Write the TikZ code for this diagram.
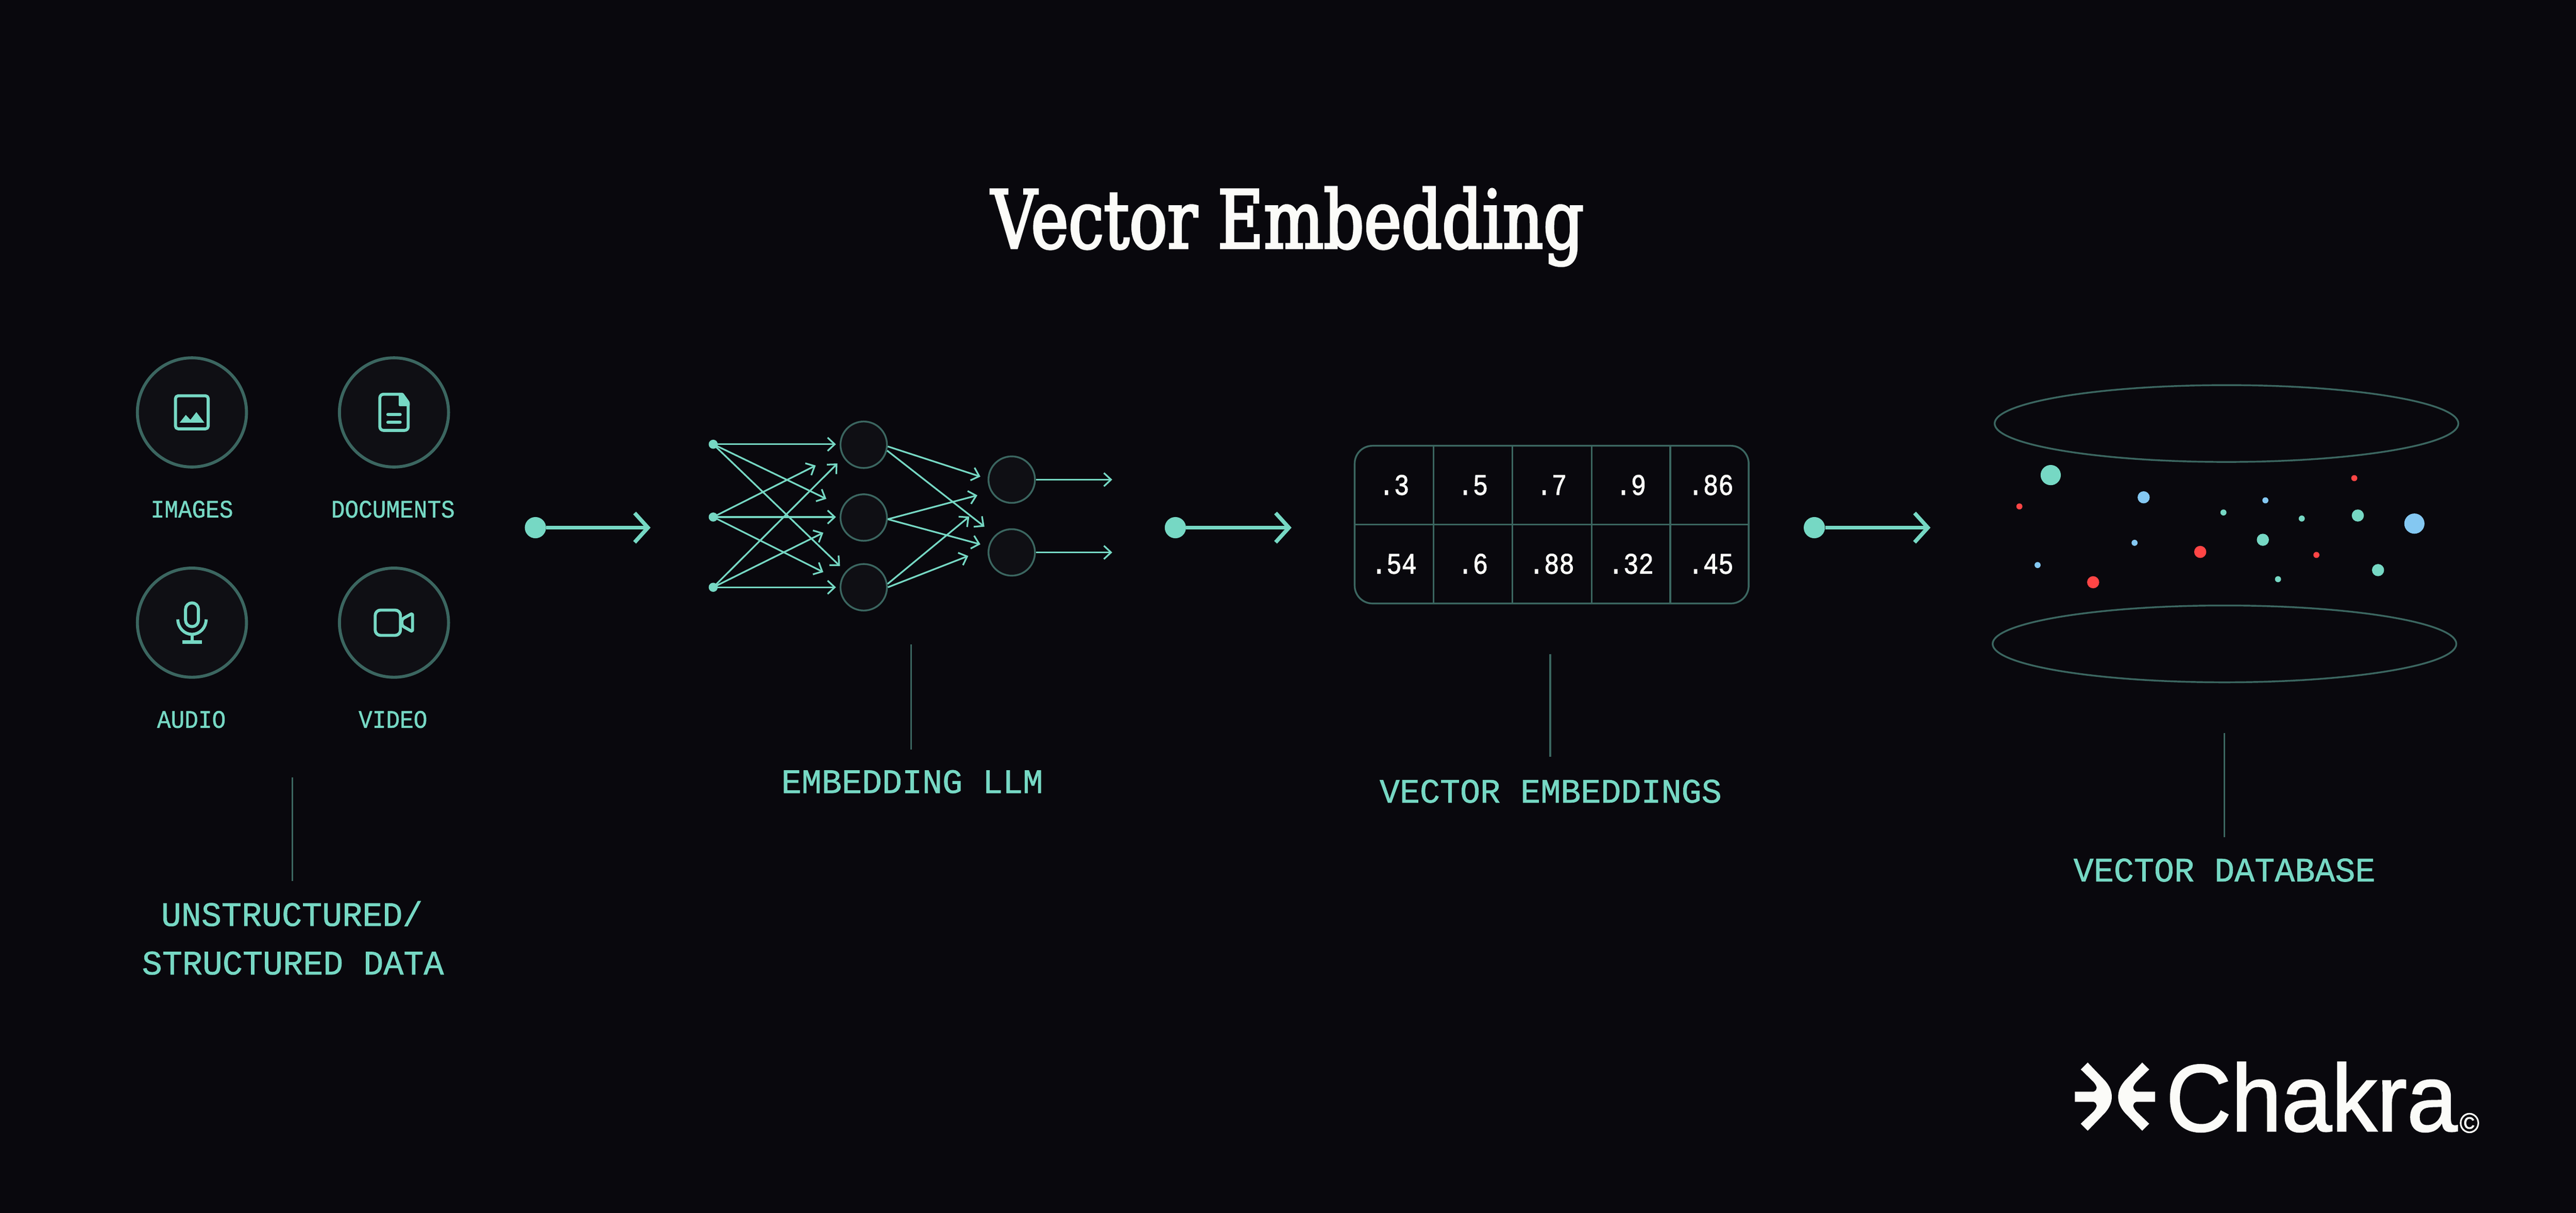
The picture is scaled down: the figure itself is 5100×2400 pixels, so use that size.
\documentclass[tikz,border=0pt]{standalone}
\usepackage{fontspec}
\usetikzlibrary{arrows.meta,shapes.geometric}
\newfontfamily\titlefont[FakeStretch=0.785,FakeBold=2.6]{DejaVu Serif}
\newfontfamily\labelfont[FakeStretch=0.98,FakeBold=1.1]{Liberation Mono}
\newfontfamily\smalllabelfont[FakeStretch=0.91,FakeBold=1.0]{Liberation Mono}
\newfontfamily\cellfont[FakeStretch=0.85,FakeBold=1.6]{Liberation Mono}
\newfontfamily\logofont[FakeStretch=0.95,FakeBold=1.4]{Liberation Sans}
\definecolor{bgc}{HTML}{09080D}
\definecolor{fillc}{HTML}{0F0F14}
\definecolor{teal}{HTML}{76D8C4}
\definecolor{dimc}{HTML}{3B6660}
\definecolor{bluec}{HTML}{84C8F2}
\definecolor{redc}{HTML}{FF4545}
\definecolor{whitec}{HTML}{FBFBF8}
% 1 px = 0.2 mm = 0.56693 pt
\newcommand{\pxfont}[1]{\fontsize{\dimexpr #1\dimexpr 0.56693pt\relax\relax}{\dimexpr #1\dimexpr 0.6pt\relax\relax}\selectfont}
\tikzset{
  iconring/.style={circle,draw=dimc,fill=fillc,line width=3.4pt,minimum size=216*0.2mm,inner sep=0pt},
  neuron/.style={circle,draw=dimc,fill=fillc,line width=2pt,minimum size=92*0.2mm,inner sep=0pt},
  inputdot/.style={circle,fill=teal,minimum size=18*0.2mm,inner sep=0pt},
  flowdot/.style={circle,fill=teal,minimum size=42*0.2mm,inner sep=0pt},
  flowarrow/.style={teal,line width=4.4pt,-{Straight Barb[length=15pt,width=33pt,line width=4.4pt]}},
  netarrow/.style={teal,line width=1.9pt,-{Straight Barb[length=8pt,width=15pt,line width=1.9pt]}},
  leader/.style={dimc,line width=2pt},
  icon/.style={teal,line width=3.4pt,line join=round},
  biglabel/.style={text=teal,font=\labelfont\pxfont{68},inner sep=0pt,anchor=base},
  smalllabel/.style={text=teal,font=\smalllabelfont\pxfont{50},inner sep=0pt,anchor=base},
  cellnum/.style={text=whitec,font=\cellfont\pxfont{59},inner sep=0pt,anchor=base},
  tablerule/.style={dimc,line width=2pt},
  disc/.style={ellipse,draw=dimc,line width=2pt,minimum width=918*0.2mm,minimum height=152*0.2mm,inner sep=0pt},
  spot/.style={circle,inner sep=0pt,fill=#1},
  spotS/.style={spot=#1,minimum size=12*0.2mm},
  spotM/.style={spot=#1,minimum size=24*0.2mm},
  spotL/.style={spot=#1,minimum size=40*0.2mm},
}
\begin{document}
\begin{tikzpicture}[x=0.2mm,y=-0.2mm]
\useasboundingbox (0,0) rectangle (5100,2400);
\fill[bgc] (0,0) rectangle (5100,2400);

% title
\node[text=whitec,font=\titlefont\pxfont{160},inner sep=0pt,anchor=base] (title) at (2549,491) {Vector Embedding};

% input icons
\node[iconring] (r1) at (380,816) {};
\node[iconring] (r2) at (780,816) {};
\node[iconring] (r3) at (380,1232) {};
\node[iconring] (r4) at (780,1232) {};
\begin{scope}[shift={(200,650)},scale=0.5102]
  % image
  \draw[icon,rounded corners=3pt] (289,261) rectangle (416,389);
  \fill[teal] (305,365) -- (329,335) -- (347,354) -- (370,324) -- (401,365) -- cycle;
  % document
  \draw[icon,rounded corners=4pt] (1160,255) -- (1082,255) -- (1082,395) -- (1192,395) -- (1192,295);
  \fill[teal,rounded corners=1pt] (1155,249) -- (1172,249) -- (1198,285) -- (1198,301) -- (1155,301) -- cycle;
  \draw[icon,line cap=round] (1113,333) -- (1161,333);
  \draw[icon,line cap=round] (1113,364) -- (1161,364);
  % microphone
  \draw[icon,rounded corners=7.2pt] (328,1064) rectangle (378,1156);
  \draw[icon] (298,1128) .. controls (298,1160) and (323,1186) .. (353,1186) .. controls (383,1186) and (408,1160) .. (408,1128);
  \draw[icon] (353,1186) -- (353,1216);
  \draw[icon,line width=4pt] (315,1216) -- (392,1216);
  % video
  \draw[icon,rounded corners=6pt] (1064,1092) rectangle (1162,1190);
  \draw[icon,rounded corners=2pt] (1168,1127) -- (1209,1104) -- (1209,1176) -- (1168,1153) -- cycle;
\end{scope}
\node[smalllabel] (limg) at (380,1024) {IMAGES};
\node[smalllabel] (ldoc) at (778,1024) {DOCUMENTS};
\node[smalllabel] (laud) at (379,1440) {AUDIO};
\node[smalllabel] (lvid) at (778,1440) {VIDEO};

% leader + group labels
\coordinate (a1) at (579,1538); \coordinate (a2) at (579,1743);
\draw[leader] (a1) -- (a2);
\node[biglabel] (lun) at (578,1832) {UNSTRUCTURED/};
\node[biglabel] (lst) at (580,1928) {STRUCTURED DATA};

\coordinate (b1) at (1804,1275); \coordinate (b2) at (1804,1483);
\draw[leader] (b1) -- (b2);
\node[biglabel] (lllm) at (1806,1569) {EMBEDDING LLM};

\coordinate (c1) at (3069,1294); \coordinate (c2) at (3069,1497);
\draw[leader] (c1) -- (c2);
\node[biglabel] (lvec) at (3070,1588) {VECTOR EMBEDDINGS};

\coordinate (d1) at (4404,1450); \coordinate (d2) at (4404,1656);
\draw[leader] (d1) -- (d2);
\node[biglabel] (ldb) at (4404,1744) {VECTOR DATABASE};

% flow arrows
\node[flowdot] (f1) at (1060,1044) {}; \coordinate (g1) at (1288,1044);
\node[flowdot] (f2) at (2327,1044) {}; \coordinate (g2) at (2557,1044);
\node[flowdot] (f3) at (3592,1044) {}; \coordinate (g3) at (3822,1044);
\draw[flowarrow] (f1) -- (g1);
\draw[flowarrow] (f2) -- (g2);
\draw[flowarrow] (f3) -- (g3);

% neural net
\node[inputdot] (i1) at (1412,879) {};
\node[inputdot] (i2) at (1412,1023) {};
\node[inputdot] (i3) at (1412,1162) {};
\node[neuron] (h1) at (1710,880) {};
\node[neuron] (h2) at (1710,1024) {};
\node[neuron] (h3) at (1710,1162) {};
\node[neuron] (o1) at (2003,949) {};
\node[neuron] (o2) at (2003,1093) {};
\coordinate (t1a) at (1655,879);
\coordinate (t1b) at (1636,987);
\coordinate (t1c) at (1663,1120);
\coordinate (t2a) at (1615,921);
\coordinate (t2b) at (1655,1023);
\coordinate (t2c) at (1630,1132);
\coordinate (t3a) at (1658,917);
\coordinate (t3b) at (1630,1054);
\coordinate (t3c) at (1655,1162);
\coordinate (u1a) at (1941,943);
\coordinate (u1b) at (1949,1042);
\coordinate (u2a) at (1935,980);
\coordinate (u2b) at (1941,1077);
\coordinate (u3a) at (1919,1022);
\coordinate (u3b) at (1917,1100);
\coordinate (v1) at (2202,949);
\coordinate (v2) at (2202,1093);
\foreach \s/\e in {i1/t1a,i1/t1b,i1/t1c,i2/t2a,i2/t2b,i2/t2c,i3/t3a,i3/t3b,i3/t3c}
  \draw[netarrow] (\s.center) -- (\e);
\draw[netarrow] (h1.-4) -- (u1a);
\draw[netarrow] (h1.-14) -- (u1b);
\draw[netarrow] (h2.-4) -- (u2a);
\draw[netarrow] (h2.-4) -- (u2b);
\draw[netarrow] (h3.8) -- (u3a);
\draw[netarrow] (h3.east) -- (u3b);
\draw[netarrow] (o1) -- (v1);
\draw[netarrow] (o2) -- (v2);

% table
\coordinate (tl) at (2682,882);
\coordinate (br) at (3462,1194);
\draw[tablerule,rounded corners=20pt] (tl) rectangle (br);
\foreach \x in {2838,2994,3151,3307} \draw[tablerule] (\x,882) -- (\x,1194);
\draw[tablerule] (2682,1038) -- (3462,1038);
\foreach \x/\v/\n in {2760/.3/a1,2916/.5/a2,3072/.7/a3,3229/.9/a4,3387/.86/a5}
  \node[cellnum] (cell\n) at (\x,979) {\v};
\foreach \x/\v/\n in {2760/.54/b1,2916/.6/b2,3072/.88/b3,3229/.32/b4,3387/.45/b5}
  \node[cellnum] (cell\n) at (\x,1135) {\v};

% vector database
\node[disc] (dbtop) at (4408,838) {};
\node[disc] (dbbot) at (4404,1274) {};
\foreach \n/\x/\y/\s/\c in {
  s1/4060/940/L/teal, s2/3998/1002/S/redc, s3/4244/984/M/bluec, s4/4485/990/S/bluec,
  s5/4402/1014/S/teal, s6/4557/1026/S/teal, s7/4668/1020/M/teal, s8/4661/946/S/redc,
  s9/4780/1036/L/bluec, s10/4480/1068/M/teal, s11/4226/1074/S/bluec, s12/4356/1092/M/redc,
  s13/4586/1098/S/redc, s14/4708/1128/M/teal, s15/4034/1118/S/bluec, s16/4144/1152/M/redc,
  s17/4510/1146/S/teal}
  \node[spot\s=\c] (\n) at (\x,\y) {};

% logo
\begin{scope}[shift={(4050,2050)},xscale=0.574,yscale=0.3333]
  \fill[whitec] (145,157) -- (121,198) -- (165,272) .. controls (172,285) and (176,300) .. (176,308) .. controls (176,318) and (172,326) .. (165,330) -- (101,330) -- (101,390) -- (165,390) .. controls (172,394) and (176,402) .. (176,412) .. controls (176,420) and (172,435) .. (165,448) -- (121,520) -- (145,562) -- (205,455) .. controls (220,425) and (228,395) .. (228,360) .. controls (228,325) and (220,295) .. (205,265) -- cycle;
  \fill[whitec] (333,157) -- (357,198) -- (313,272) .. controls (306,285) and (302,300) .. (302,308) .. controls (302,318) and (306,326) .. (313,330) -- (377,330) -- (377,390) -- (313,390) .. controls (306,394) and (302,402) .. (302,412) .. controls (302,420) and (306,435) .. (313,448) -- (357,520) -- (333,562) -- (273,455) .. controls (258,425) and (250,395) .. (250,360) .. controls (250,325) and (258,295) .. (273,265) -- cycle;
\end{scope}
\node[text=whitec,font=\logofont\pxfont{189},inner sep=0pt,anchor=base west] (logo) at (4288,2238) {Chakra};
\node[text=whitec,font=\logofont\pxfont{56},inner sep=0pt] (copyr) at (4889,2222) {©};
\end{tikzpicture}
\end{document}
